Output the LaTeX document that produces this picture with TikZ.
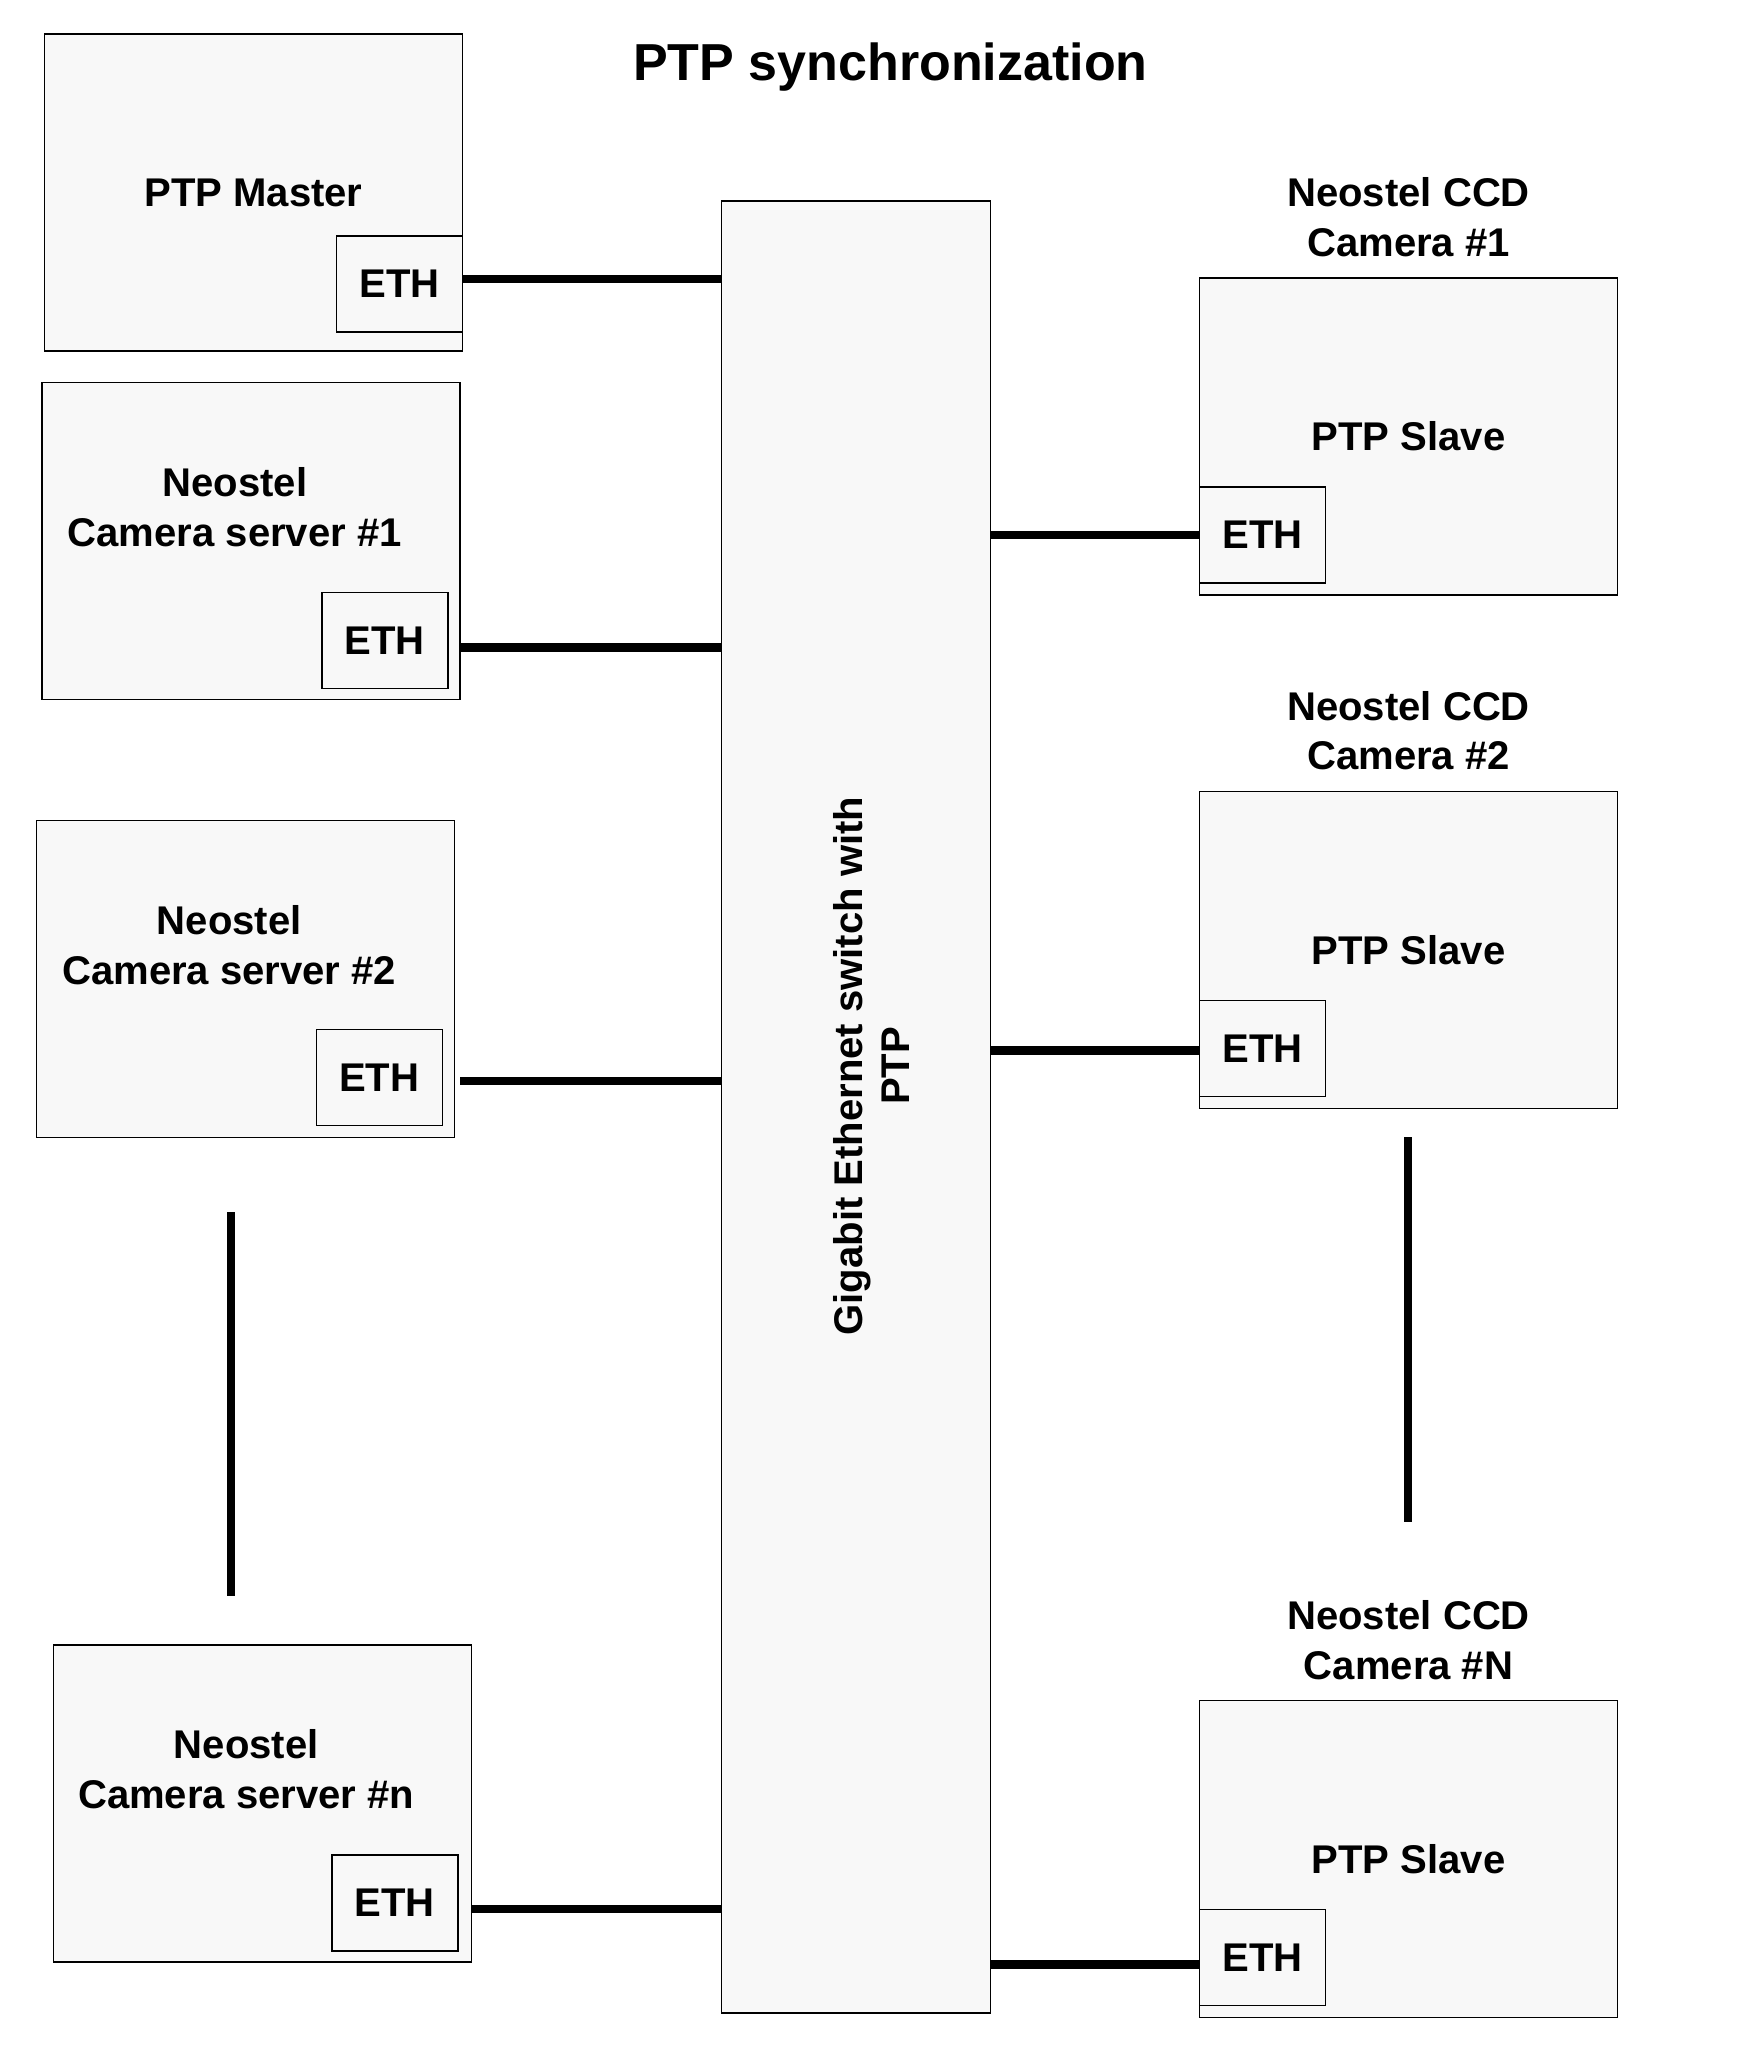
\documentclass[tikz,border=0pt]{standalone}
\usepackage{fontspec}
\setmainfont{Liberation Sans}
\usepackage{tikz}
\definecolor{boxgray}{HTML}{F8F8F8}
\usetikzlibrary{calc}
\usetikzlibrary{positioning}
\tikzstyle{box}=[draw, fill=boxgray, line width=0.015cm, minimum width=4.18cm, minimum height=3.17cm, inner sep=0mm, align=center, font={\fontsize{11.4}{14.2}\selectfont\bfseries}]
\tikzstyle{eth}=[box, minimum width=1.26cm, minimum height=0.96cm]
\tikzstyle{devtext}=[inner sep=0mm, align=center, font={\fontsize{11.4}{14.2}\selectfont\bfseries}]
\tikzstyle{link}=[line width=0.085cm]

\begin{document}
\begin{tikzpicture}

    \useasboundingbox (0, 0) rectangle (17.57, -20.49);

    \node[font={\fontsize{14.8}{17}\selectfont\bfseries}, anchor=base] (title) at (8.905, -0.805) {PTP synchronization};

    % switch
    \node[box, minimum width=2.69cm, minimum height=18.12cm] (switch) at (8.561, -11.069) {};
    \node[devtext, rotate=90, font={\fontsize{11.4}{13.5}\selectfont\bfseries}] (swlabel) at (8.715, -10.66) {Gigabit Ethernet switch with\\PTP};

    % left side
    \node[box] (master) at (2.535, -1.925) {PTP Master};
    \node[eth, above left=0.19cm and 0cm of master.south east] (meth) {ETH};

    \node[box] (cs1) at (2.508, -5.41) {};
    \node[devtext] (cs1lbl) at ($(cs1) + (-0.16, 0.34)$) {Neostel\\Camera server \#1};
    \node[eth, above left=0.11cm and 0.12cm of cs1.south east] (cs1eth) {ETH};

    \node[box] (cs2) at (2.453, -9.788) {};
    \node[devtext] (cs2lbl) at ($(cs2) + (-0.16, 0.34)$) {Neostel\\Camera server \#2};
    \node[eth, above left=0.12cm and 0.12cm of cs2.south east] (cs2eth) {ETH};

    \node[box] (csn) at (2.623, -18.036) {};
    \node[devtext] (csnlbl) at ($(csn) + (-0.16, 0.34)$) {Neostel\\Camera server \#n};
    \node[eth, above left=0.11cm and 0.135cm of csn.south east] (csneth) {ETH};

    % right side
    \node[box] (cam1) at (14.086, -4.365) {PTP Slave};
    \node[devtext, above=0.195cm of cam1] (cam1lbl) {Neostel CCD\\Camera \#1};
    \node[eth, above right=0.12cm and 0cm of cam1.south west] (cam1eth) {ETH};

    \node[box] (cam2) at (14.086, -9.498) {PTP Slave};
    \node[devtext, above=0.195cm of cam2] (cam2lbl) {Neostel CCD\\Camera \#2};
    \node[eth, above right=0.12cm and 0cm of cam2.south west] (cam2eth) {ETH};

    \node[box] (camn) at (14.086, -18.589) {PTP Slave};
    \node[devtext, above=0.195cm of camn] (camnlbl) {Neostel CCD\\Camera \#N};
    \node[eth, above right=0.12cm and 0cm of camn.south west] (camneth) {ETH};

    % links
    \draw[link] ($(meth.east) + (0, 0.05)$) -- ($(switch.west |- meth) + (0, 0.05)$);
    \draw[link] ($(cs1.east |- cs1eth) + (0, -0.07)$) -- ($(switch.west |- cs1eth) + (0, -0.07)$);
    \draw[link] ($(cs2.east |- cs2eth) + (0.05, -0.035)$) -- ($(switch.west |- cs2eth) + (0, -0.035)$);
    \draw[link] ($(csn.east |- csneth) + (0, -0.06)$) -- ($(switch.west |- csneth) + (0, -0.06)$);

    \draw[link] (switch.east |- cam1eth) -- (cam1eth.west);
    \draw[link] ($(switch.east |- cam2eth) + (0, -0.02)$) -- ($(cam2eth.west) + (0, -0.02)$);
    \draw[link] ($(switch.east |- camneth) + (0, -0.07)$) -- ($(camneth.west) + (0, -0.07)$);

    % more servers / cameras
    \coordinate (lmore1) at (2.31, -12.12);
    \coordinate (lmore2) at (2.31, -15.96);
    \draw[link] (lmore1) -- (lmore2);

    \coordinate (rmore1) at (14.08, -11.37);
    \coordinate (rmore2) at (14.08, -15.217);
    \draw[link] (rmore1) -- (rmore2);

\end{tikzpicture}
\end{document}
